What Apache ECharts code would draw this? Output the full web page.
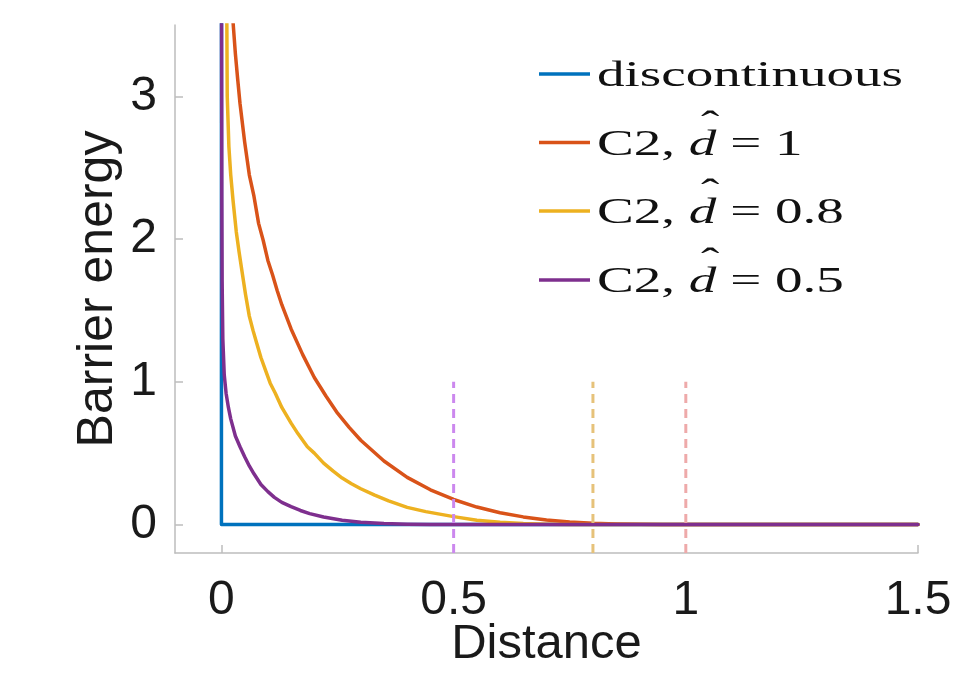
<!DOCTYPE html>
<html>
<head>
<meta charset="utf-8">
<script src="https://cdn.jsdelivr.net/npm/echarts@6/dist/echarts.min.js"></script>
<style>
html,body{margin:0;padding:0;background:#fff;}
#chart{width:971px;height:688px;}
</style>
</head>
<body>
<div id="chart"></div>
<script>
// ---- data ----
const xTicks = [0, 0.5, 1, 1.5];
const yTicks = [0, 1, 2, 3];

const discX = [0, 0, 1.5];
const discY = [3.6, 0, 0];

const c2d1X = [0.025,0.03,0.035,0.04,0.05,0.06,0.07,0.08,0.09,0.10,0.11,0.12,0.13,0.15,0.175,0.20,0.225,0.25,0.275,0.30,0.35,0.40,0.45,0.50,0.55,0.60,0.65,0.70,0.75,0.80,0.85,0.90,0.95,1.0,1.5];
const c2d1Y = [3.52,3.30,3.12,2.95,2.68,2.45,2.30,2.11,1.99,1.85,1.75,1.64,1.54,1.37,1.19,1.03,0.90,0.78,0.68,0.59,0.445,0.33,0.243,0.175,0.122,0.082,0.053,0.032,0.018,0.009,0.004,0.001,0.0001,0,0];

const c2d08X = [0.0115,0.0125,0.016,0.02,0.025,0.032,0.038,0.044,0.052,0.06,0.068,0.076,0.085,0.095,0.105,0.116,0.13,0.15,0.165,0.185,0.20,0.22,0.24,0.26,0.28,0.30,0.33,0.36,0.40,0.44,0.5,0.55,0.6,0.65,0.7,0.75,0.8,1.5];
const c2d08Y = [3.6,3.0,2.65,2.45,2.27,2.05,1.91,1.78,1.61,1.46,1.36,1.27,1.17,1.08,0.99,0.92,0.82,0.71,0.635,0.545,0.50,0.43,0.375,0.325,0.285,0.25,0.205,0.165,0.12,0.09,0.055,0.03,0.015,0.006,0.002,0.0003,0,0];

const c2d05X = [0.0003,0.0008,0.0015,0.003,0.006,0.01,0.015,0.02,0.03,0.04,0.05,0.06,0.07,0.085,0.1,0.114,0.13,0.15,0.17,0.19,0.22,0.26,0.3,0.35,0.4,0.45,0.5,1.5];
const c2d05Y = [3.6,2.3,1.7,1.3,1.05,0.92,0.82,0.74,0.62,0.545,0.475,0.41,0.355,0.28,0.23,0.19,0.155,0.125,0.098,0.076,0.052,0.03,0.016,0.006,0.002,0.0003,0,0];

const thresholdX = [0.5, 0.8, 1];
const thresholdTop = 1;

// legend rows: [prefix, italic symbol, suffix]
const legendPrefix = ['discontinuous', 'C2, ', 'C2, ', 'C2, '];
const legendSymbol = ['', 'd', 'd', 'd'];
const legendSuffix = ['', ' = 1', ' = 0.8', ' = 0.5'];

// ---- styling ----
const colors = ['#0072BD', '#D95319', '#EDB120', '#7E2F8E'];
const dashColors = ['#cc88ee', '#e6c27a', '#eeaaaa'];
const xMin = -0.1, xMax = 1.5, yMin = -0.2, yMax = 3.5;

function pairs(xs, ys) { return xs.map((x, i) => [x, ys[i]]); }

const curveSets = [[discX, discY], [c2d1X, c2d1Y], [c2d08X, c2d08Y], [c2d05X, c2d05Y]];
const series = curveSets.map((s, i) => ({
  type: 'line',
  data: pairs(s[0], s[1]),
  showSymbol: false,
  symbol: 'none',
  smooth: false,
  lineStyle: { color: colors[i], width: 3.5, join: 'round', cap: 'round' },
  z: 2 + i,
  silent: true
}));
thresholdX.forEach((x, i) => {
  series.push({
    type: 'line',
    data: [[x, yMin], [x, thresholdTop]],
    showSymbol: false,
    symbol: 'none',
    lineStyle: { color: dashColors[i], width: 3, type: [9, 6] },
    z: 10,
    silent: true
  });
});

const axisColor = '#bdbdbd';
const labelFont = { fontFamily: 'Liberation Sans', fontSize: 48, color: '#1a1a1a' };

// measure text widths for legend composition
const mctx = document.createElement('canvas').getContext('2d');
function tw(str, font) { mctx.font = font; return mctx.measureText(str).width; }
const LF = 36;
const normalFont = LF + 'px "Liberation Serif"';
const italicFont = 'italic ' + LF + 'px "Liberation Serif"';

const legendRowY = [74, 142.5, 211, 280];
const graphic = [];
legendPrefix.forEach((p, i) => {
  graphic.push({
    type: 'line',
    shape: { x1: 539, y1: legendRowY[i], x2: 590, y2: legendRowY[i] },
    style: { stroke: colors[i], lineWidth: 3.5 },
    silent: true
  });
  const children = [];
  const baseStyle = { fill: '#111', fontFamily: 'Liberation Serif', fontSize: LF, verticalAlign: 'middle', align: 'left' };
  children.push({ type: 'text', x: 0, y: 0, style: Object.assign({ text: p }, baseStyle) });
  if (legendSymbol[i]) {
    const x1 = tw(p, normalFont);
    const wd = tw(legendSymbol[i], italicFont);
    children.push({ type: 'text', x: x1, y: 0, style: Object.assign({}, baseStyle, { text: legendSymbol[i], fontStyle: 'italic' }) });
    children.push({ type: 'text', x: x1 + wd / 2 + 5, y: -19, style: Object.assign({}, baseStyle, { text: '\u02C6', align: 'center' }) });
    children.push({ type: 'text', x: x1 + wd, y: 0, style: Object.assign({ text: legendSuffix[i] }, baseStyle) });
  }
  graphic.push({
    type: 'group',
    x: 597,
    y: legendRowY[i] + 3,
    scaleX: 1.53,
    children: children,
    silent: true
  });
});

const option = {
  animation: false,
  backgroundColor: '#fff',
  grid: { left: 175, right: 53, top: 25, bottom: 135, containLabel: false },
  xAxis: {
    type: 'value', min: xMin, max: xMax,
    name: 'Distance', nameLocation: 'middle', nameGap: 67, nameMoveOverlap: false,
    nameTextStyle: { fontFamily: 'Liberation Sans', fontSize: 49, color: '#1a1a1a' },
    axisLine: { show: true, onZero: false, lineStyle: { color: axisColor, width: 1.5 } },
    axisTick: { show: true, inside: true, length: 8, customValues: xTicks, lineStyle: { color: axisColor, width: 1.5 } },
    axisLabel: Object.assign({ margin: 24, customValues: xTicks, formatter: v => String(v) }, labelFont),
    splitLine: { show: false }
  },
  yAxis: {
    type: 'value', min: yMin, max: yMax,
    name: 'Barrier energy', nameLocation: 'middle', nameGap: 52, nameRotate: 90, nameMoveOverlap: false,
    nameTextStyle: { fontFamily: 'Liberation Sans', fontSize: 50, color: '#1a1a1a' },
    axisLine: { show: true, onZero: false, lineStyle: { color: axisColor, width: 1.5 } },
    axisTick: { show: true, inside: true, length: 8, customValues: yTicks, lineStyle: { color: axisColor, width: 1.5 } },
    axisLabel: Object.assign({ margin: 18, customValues: yTicks, formatter: v => String(v) }, labelFont),
    splitLine: { show: false }
  },
  series: series,
  graphic: graphic
};

const chart = echarts.init(document.getElementById('chart'), null, { renderer: 'canvas' });
chart.setOption(option);
</script>
</body>
</html>
